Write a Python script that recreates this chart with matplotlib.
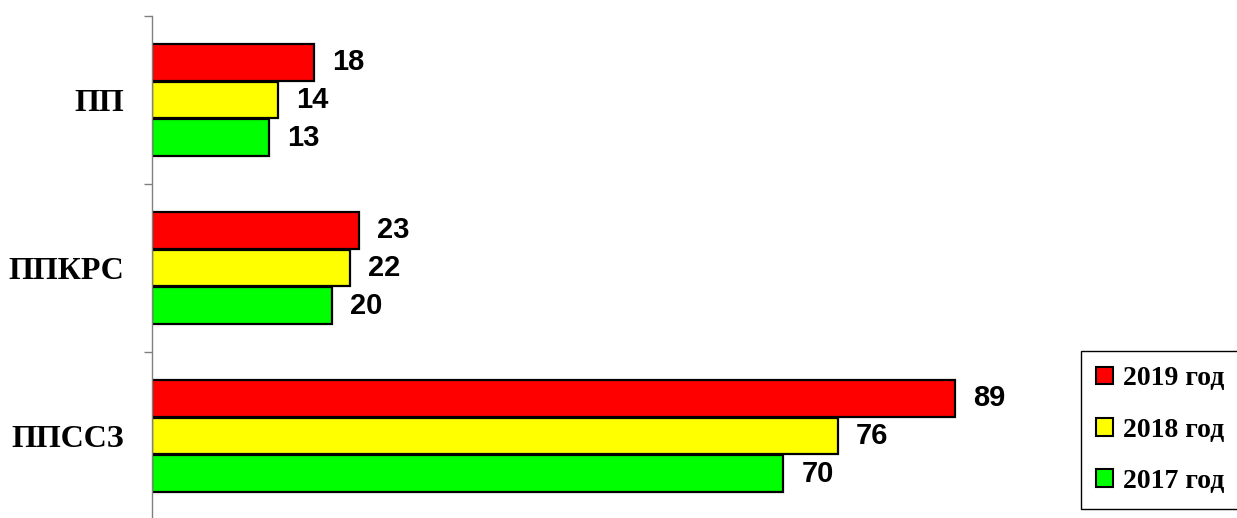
import numpy as np
import matplotlib
matplotlib.use("Agg")
import matplotlib.pyplot as plt

# Données (de haut en bas : ПП, ППКРС, ППССЗ)
categories = ["ППССЗ", "ППКРС", "ПП"]
years = ["2019 год", "2018 год", "2017 год"]
val_2019 = [89, 23, 18]
val_2018 = [76, 22, 14]
val_2017 = [70, 20, 13]
colors = ["#ff0000", "#ffff00", "#00ff00"]

series = [val_2019, val_2018, val_2017]
offsets = [0.225, 0.0, -0.225]
h = 0.22

fig = plt.figure(figsize=(12.37, 5.18), dpi=100)
ax = fig.add_axes([152/1237, -0.0039, 902/1237, 0.973])

y = np.arange(len(categories))
for s, off, c, lab in zip(series, offsets, colors, years):
    bars = ax.barh(y + off, s, height=h, color=c, edgecolor="black",
                   linewidth=1.6, label=lab)
    for b, v in zip(bars, s):
        ax.text(b.get_width() + 2.0, b.get_y() + b.get_height()/2, str(v),
                ha="left", va="center", fontsize=21, fontweight="heavy",
                family="Liberation Sans")

ax.set_xlim(0, 100)
ax.set_ylim(-0.5, 2.5)

# Graduations aux limites des catégories, étiquettes au centre
ax.set_yticks([-0.5, 0.5, 1.5, 2.5])
ax.set_yticklabels([])
ax.set_yticks(y, minor=True)
ax.set_yticklabels(categories, minor=True, fontsize=23, fontweight="bold",
                   family="Liberation Serif")
ax.tick_params(axis="y", which="major", length=6, color="#808080", width=1)
ax.tick_params(axis="y", which="minor", length=0, pad=20)
ax.set_xticks([])

for side in ["top", "right", "bottom"]:
    ax.spines[side].set_visible(False)
ax.spines["left"].set_color("#808080")
ax.spines["left"].set_linewidth(1)

leg = fig.legend(loc="center", bbox_to_anchor=(1160/1237, 1 - 430/518),
                 prop={"family": "Liberation Serif", "weight": "bold", "size": 20},
                 handlelength=0.6, handleheight=0.6, handletextpad=0.35,
                 labelspacing=0.95, borderpad=0.55, fancybox=False,
                 edgecolor="black", framealpha=1)
leg.get_frame().set_linewidth(1)
for p in leg.get_patches():
    p.set_linewidth(1.5)

fig.savefig("out.png", dpi=100)
